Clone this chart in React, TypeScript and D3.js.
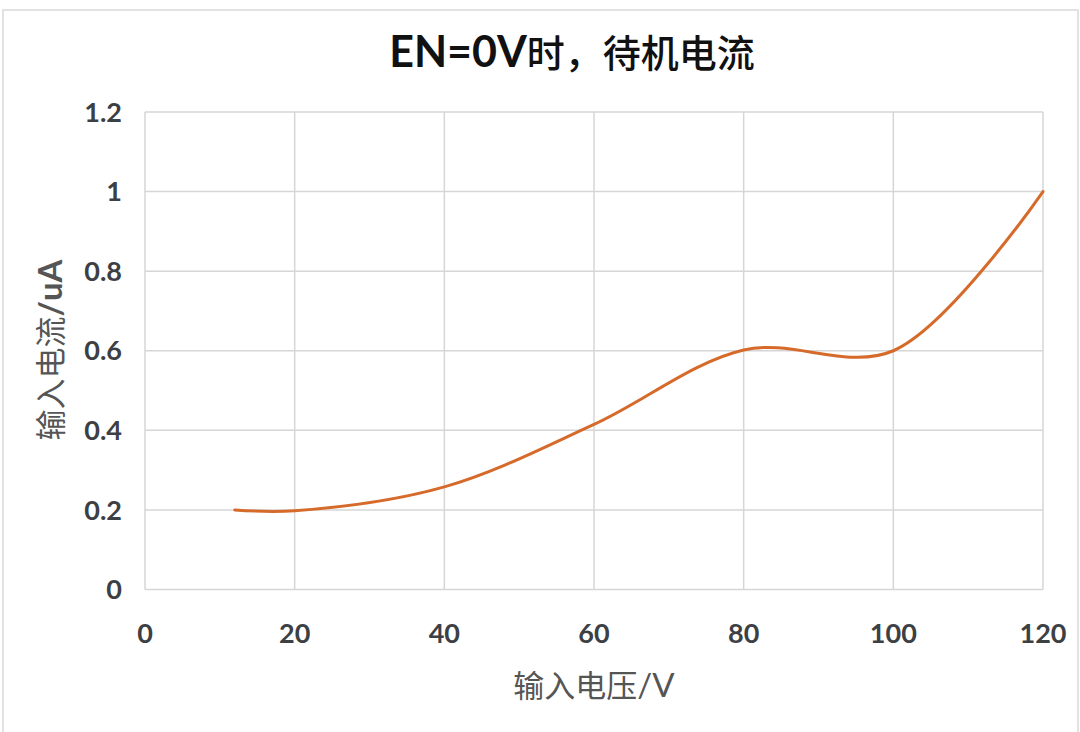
import React, { useEffect, useRef } from 'react';
import * as d3 from 'd3';

// 输入电压 (V) and 待机电流 (uA)
const voltage = [12, 20, 40, 60, 80, 100, 120];
const current = [0.2, 0.198, 0.258, 0.415, 0.602, 0.6, 1.0];

const xTicks = [0, 20, 40, 60, 80, 100, 120];
const yTicks = [0, 0.2, 0.4, 0.6, 0.8, 1, 1.2];

const titleLatin = 'EN=0V';
const titleCjk = '时，待机电流';
const xLabelCjk = '输入电压';
const xLabelUnit = '/V';
const yLabelCjk = '输入电流';
const yLabelUnit = '/uA';

const W = 1080;
const H = 732;
const LATIN = "Lato, 'Noto Sans CJK SC', sans-serif";
const CJK = "'Noto Sans CJK SC', sans-serif";

const App: React.FC = () => {
  const svgRef = useRef<SVGSVGElement>(null);

  useEffect(() => {
    document.body.style.margin = '0';
    if (!svgRef.current) return;

    const svg = d3.select(svgRef.current);
    svg.selectAll('*').remove();

    const x = d3.scaleLinear().domain([0, 120]).range([145, 1043]);
    const y = d3.scaleLinear().domain([0, 1.2]).range([589.5, 112]);

    svg.append('rect')
      .attr('width', W).attr('height', H).attr('fill', '#fff');

    // faint outer frame
    svg.append('rect')
      .attr('x', 3).attr('y', 10)
      .attr('width', 1075).attr('height', H)
      .attr('fill', 'none')
      .attr('stroke', '#e2e2e2')
      .attr('stroke-width', 2);

    // grid
    svg.append('g')
      .selectAll('line')
      .data(yTicks)
      .join('line')
      .attr('x1', x(0)).attr('x2', x(120))
      .attr('y1', d => y(d)).attr('y2', d => y(d))
      .attr('stroke', '#d6d6d6')
      .attr('stroke-width', 1.5);

    svg.append('g')
      .selectAll('line')
      .data(xTicks)
      .join('line')
      .attr('x1', d => x(d)).attr('x2', d => x(d))
      .attr('y1', y(0)).attr('y2', y(1.2))
      .attr('stroke', '#d6d6d6')
      .attr('stroke-width', 1.5);

    // tick labels
    svg.append('g')
      .selectAll('text')
      .data(yTicks)
      .join('text')
      .attr('x', 122)
      .attr('y', d => y(d))
      .attr('dy', '0.36em')
      .attr('text-anchor', 'end')
      .style('font-family', LATIN)
      .style('font-weight', 700)
      .style('font-size', '27px')
      .attr('fill', '#3c4044')
      .text(d => String(d));

    svg.append('g')
      .selectAll('text')
      .data(xTicks)
      .join('text')
      .attr('x', d => x(d))
      .attr('y', 643)
      .attr('text-anchor', 'middle')
      .style('font-family', LATIN)
      .style('font-weight', 700)
      .style('font-size', '27px')
      .attr('fill', '#3c4044')
      .text(d => String(d));

    // the curve
    const pts: [number, number][] = voltage.map((v, i) => [v, current[i]]);
    const line = d3.line<[number, number]>()
      .x(d => x(d[0]))
      .y(d => y(d[1]))
      .curve(d3.curveCatmullRom.alpha(0.5));

    svg.append('path')
      .datum(pts)
      .attr('d', line)
      .attr('fill', 'none')
      .attr('stroke', '#d66a2a')
      .attr('stroke-width', 3)
      .attr('stroke-linecap', 'round');

    // title
    const t = svg.append('text')
      .attr('x', 572).attr('y', 67)
      .attr('text-anchor', 'middle')
      .attr('fill', '#111');
    t.append('tspan')
      .style('font-family', LATIN)
      .style('font-weight', 700)
      .style('font-size', '43px')
      .text(titleLatin);
    t.append('tspan')
      .style('font-family', CJK)
      .style('font-weight', 500)
      .style('font-size', '38px')
      .text(titleCjk);

    // x axis title
    const xl = svg.append('text')
      .attr('x', 594).attr('y', 697)
      .attr('text-anchor', 'middle')
      .attr('fill', '#555');
    xl.append('tspan')
      .style('font-family', CJK)
      .style('font-size', '31px')
      .text(xLabelCjk);
    xl.append('tspan')
      .style('font-family', LATIN)
      .style('font-size', '33px')
      .text(xLabelUnit);

    // y axis title
    const yl = svg.append('text')
      .attr('transform', 'translate(62, 350) rotate(-90)')
      .attr('text-anchor', 'middle')
      .attr('fill', '#555');
    yl.append('tspan')
      .style('font-family', CJK)
      .style('font-size', '31px')
      .text(yLabelCjk);
    yl.append('tspan')
      .style('font-family', LATIN)
      .style('font-weight', 700)
      .style('font-size', '33px')
      .text(yLabelUnit);
  }, []);

  return <svg ref={svgRef} width={W} height={H} style={{ display: 'block' }} />;
};

export default App;
